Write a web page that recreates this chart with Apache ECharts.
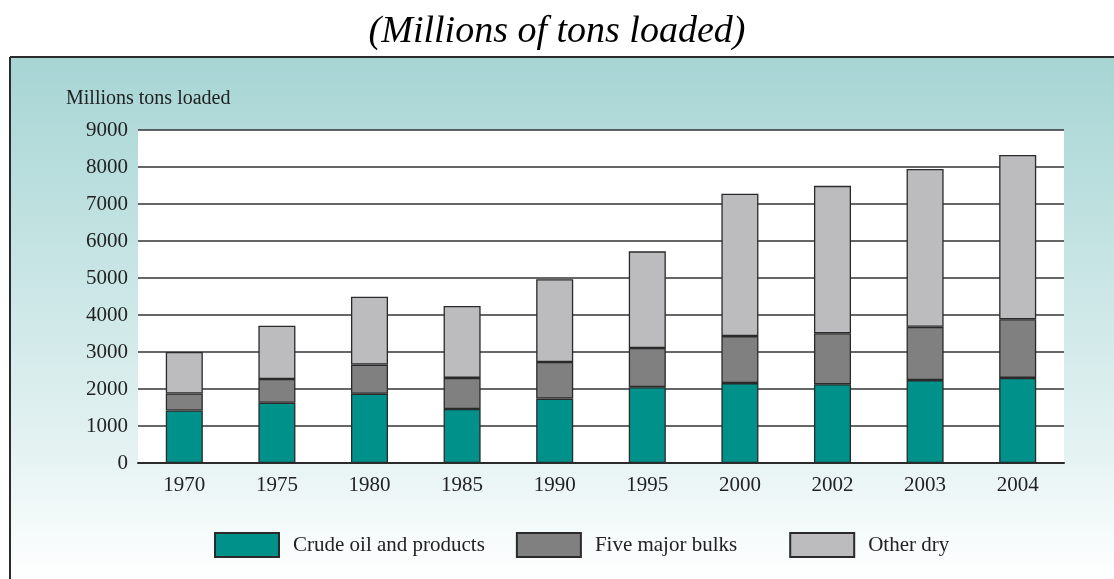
<!DOCTYPE html>
<html lang="en">
<head>
  <meta charset="UTF-8" />
  <title>Millions of tons loaded</title>
  <script src="https://cdn.jsdelivr.net/npm/echarts@6/dist/echarts.min.js"></script>
  <style>
    html, body { margin: 0; padding: 0; background: #fff; }
    #main { width: 1114px; height: 579px; }
  </style>
</head>
<body>
  <div id="main"></div>
  <script>
    const years = ['1970', '1975', '1980', '1985', '1990', '1995', '2000', '2002', '2003', '2004'];
    const crudeOil = [1420, 1630, 1870, 1460, 1740, 2050, 2160, 2130, 2240, 2300];
    const majorBulks = [460, 640, 790, 840, 990, 1060, 1270, 1375, 1440, 1585];
    const otherDry = [1120, 1440, 1835, 1945, 2235, 2610, 3850, 3985, 4265, 4440];

    const serif = '"Liberation Serif", "DejaVu Serif", serif';
    const chart = echarts.init(document.getElementById('main'));

    const barStyle = (color) => ({ color: color, borderColor: '#2a2a2a', borderWidth: 1.3 });

    chart.setOption({
      animation: false,
      title: {
        text: '(Millions of tons loaded)',
        left: 'center',
        top: 8,
        textStyle: { fontFamily: serif, fontStyle: 'italic', fontWeight: 'normal', fontSize: 38, color: '#000' }
      },
      graphic: [
        {
          type: 'rect', z: -10, silent: true,
          shape: { x: 10, y: 57, width: 1104, height: 522 },
          style: {
            fill: new echarts.graphic.LinearGradient(0, 0, 0, 1, [
              { offset: 0, color: '#a6d5d4' },
              { offset: 0.75, color: '#e4f2f2' },
              { offset: 1, color: '#ffffff' }
            ])
          }
        },
        { type: 'line', z: 10, silent: true, shape: { x1: 10, y1: 57, x2: 1114, y2: 57 }, style: { stroke: '#2b2b2b', lineWidth: 2 } },
        { type: 'line', z: 10, silent: true, shape: { x1: 10, y1: 57, x2: 10, y2: 579 }, style: { stroke: '#2b2b2b', lineWidth: 2 } },
        {
          type: 'text', z: 10, silent: true, left: 66, top: 89,
          style: { text: 'Millions tons loaded', font: '20px ' + serif, fill: '#222' }
        }
      ],
      legend: {
        left: 214,
        top: 532,
        padding: 0,
        itemWidth: 64,
        itemHeight: 24,
        itemGap: 31,
        icon: 'rect',
        // the middle label sits a bit wider in the source, pad it out
        formatter: (name) => (name === 'Five major bulks' ? name + '    ' : name),
        textStyle: { fontFamily: serif, fontSize: 21, color: '#222', padding: [0, 0, 0, 9] },
        data: ['Crude oil and products', 'Five major bulks', 'Other dry']
      },
      grid: {
        left: 138, right: 50, top: 130, bottom: 116,
        show: true, backgroundColor: '#ffffff', borderWidth: 0
      },
      xAxis: {
        type: 'category',
        data: years,
        axisLine: { lineStyle: { color: '#2b2b2b', width: 2 } },
        axisTick: { inside: true, length: 6, lineStyle: { color: '#2b2b2b', width: 1.5 } },
        axisLabel: { fontFamily: serif, fontSize: 21, color: '#222', margin: 12 }
      },
      yAxis: {
        type: 'value',
        min: 0, max: 9000, interval: 1000,
        axisLine: { show: false },
        axisTick: { show: false },
        axisLabel: { fontFamily: serif, fontSize: 21, color: '#222', margin: 10, formatter: (v) => String(v) },
        splitLine: { lineStyle: { color: '#333', width: 1.5 } }
      },
      series: [
        { name: 'Crude oil and products', type: 'bar', stack: 'total', barWidth: '40%', data: crudeOil, itemStyle: barStyle('#00918b') },
        { name: 'Five major bulks', type: 'bar', stack: 'total', data: majorBulks, itemStyle: barStyle('#808081') },
        { name: 'Other dry', type: 'bar', stack: 'total', data: otherDry, itemStyle: barStyle('#bcbcbf') }
      ]
    });
  </script>
</body>
</html>
